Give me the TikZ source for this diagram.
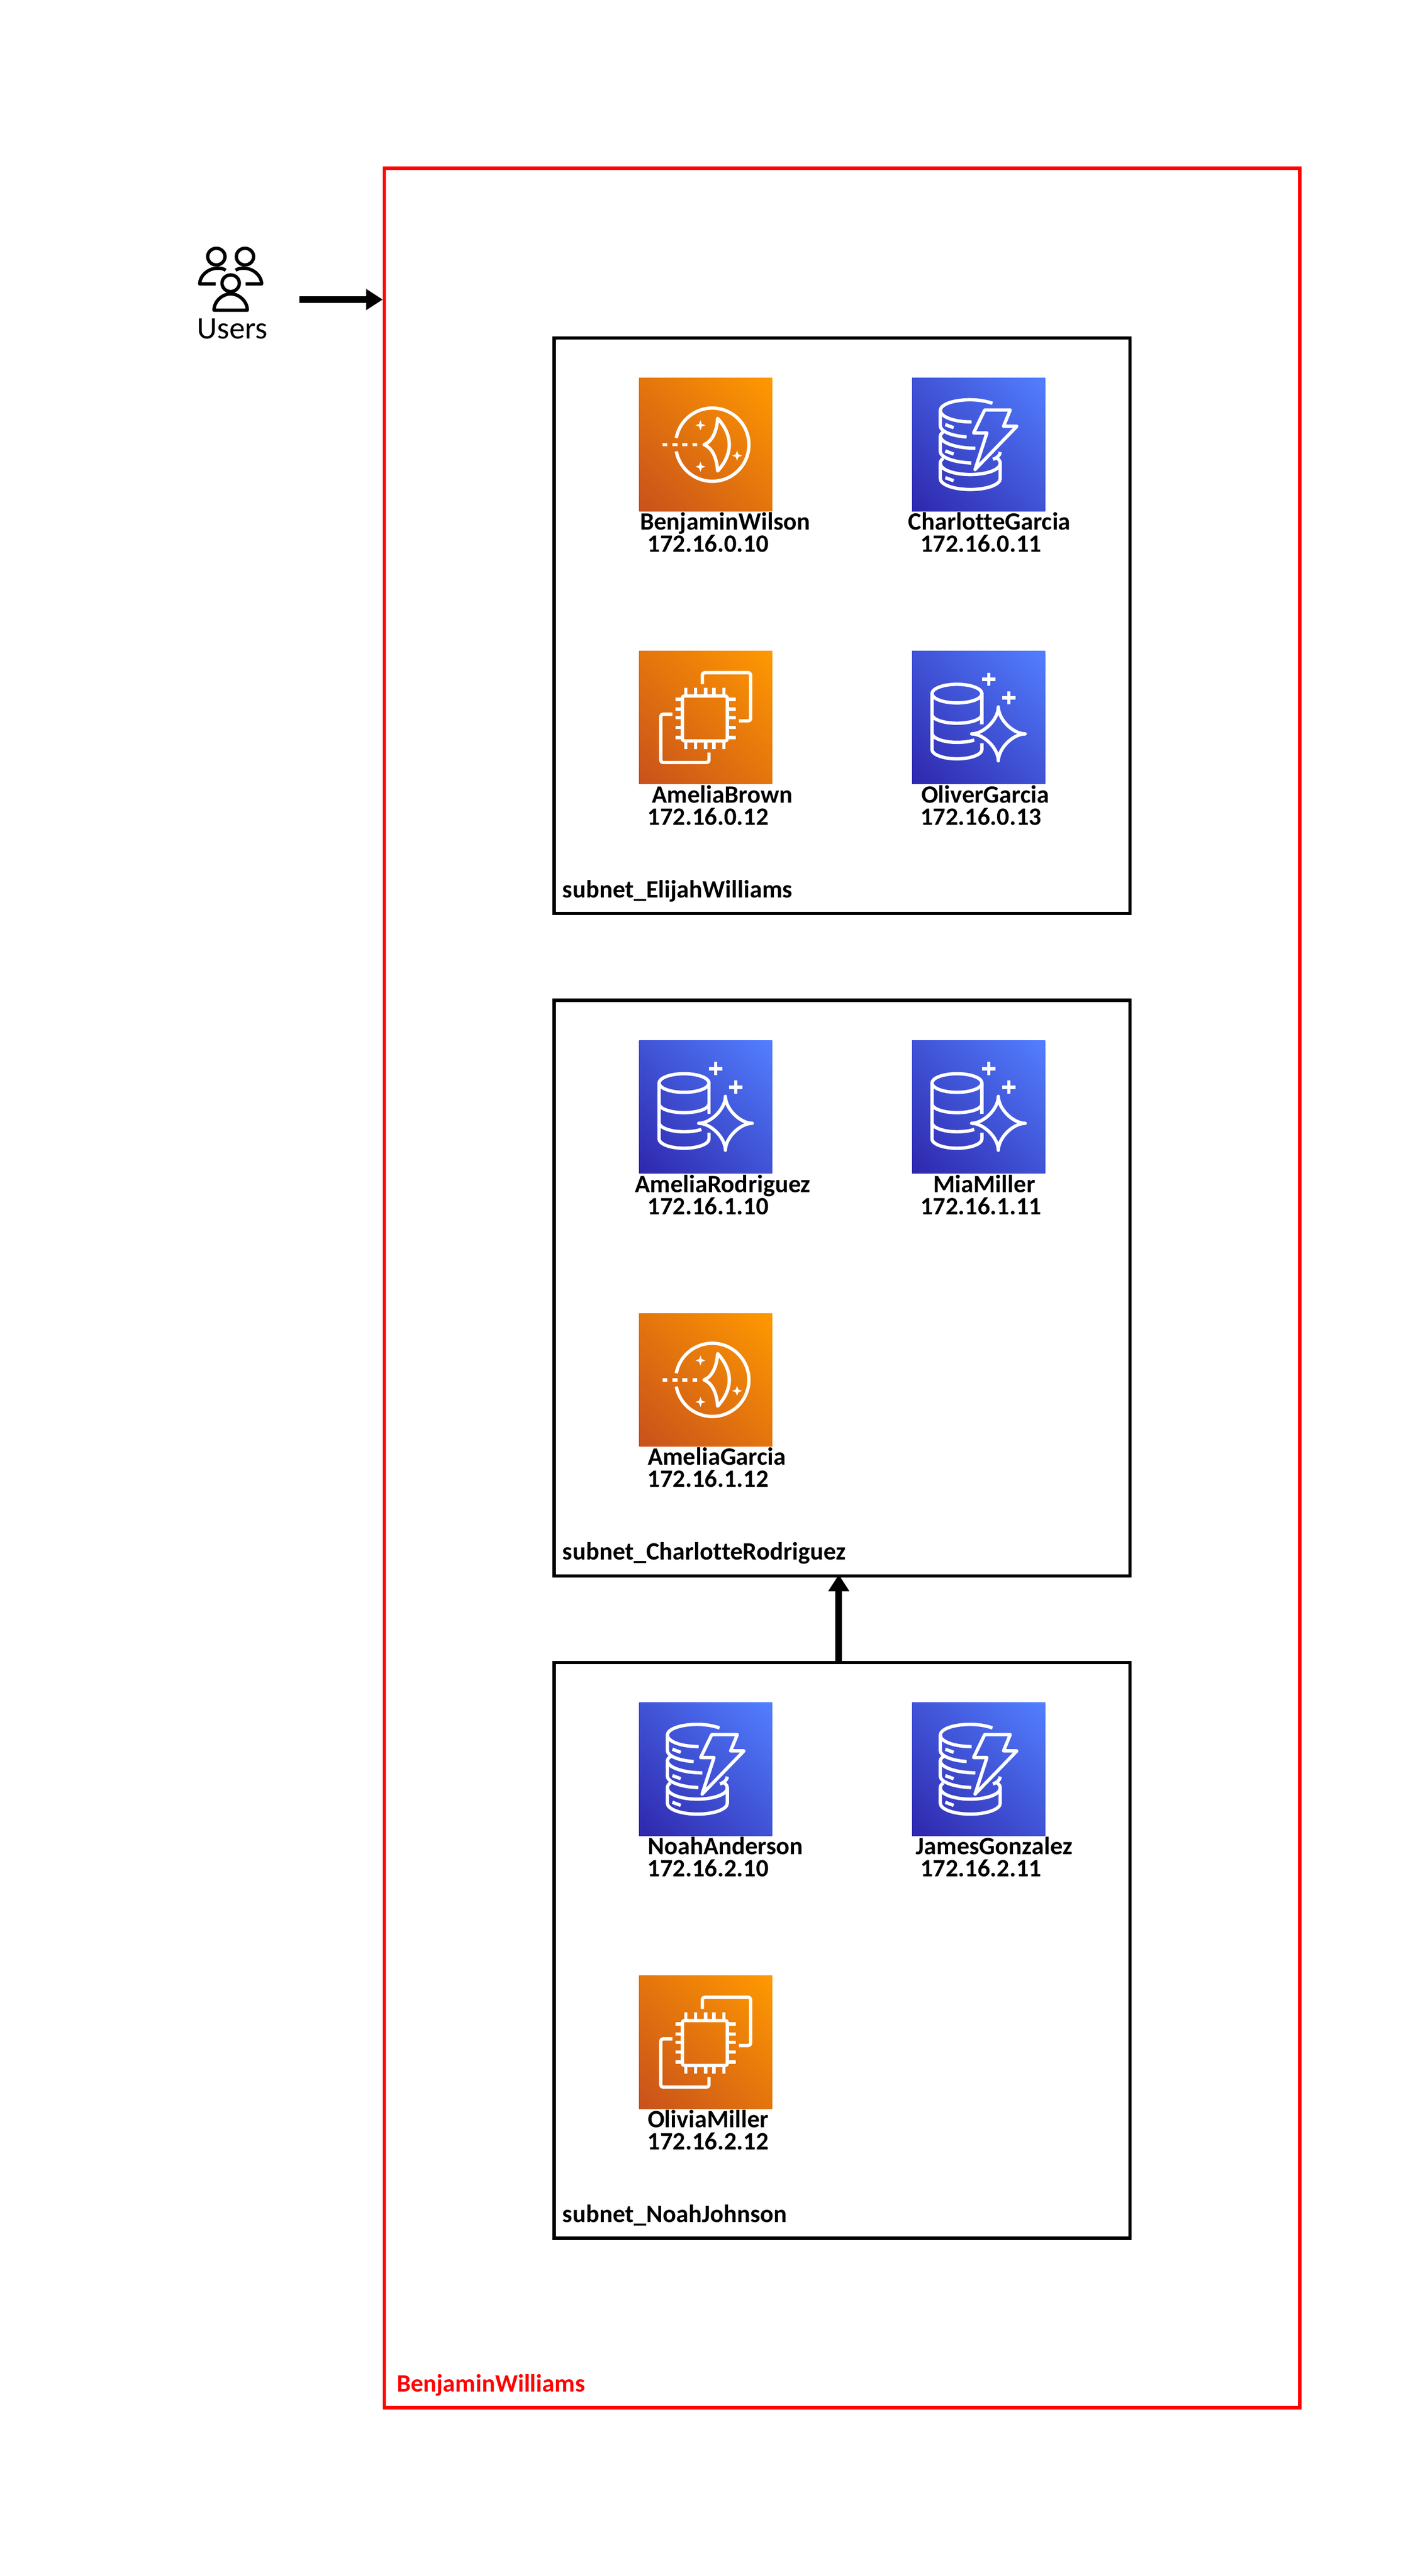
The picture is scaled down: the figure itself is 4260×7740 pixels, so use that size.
\documentclass[tikz,border=0pt]{standalone}
\usepackage{fontspec}
\setmainfont[Ligatures=NoCommon]{Carlito}
\usetikzlibrary{arrows.meta}
\definecolor{orangelow}{HTML}{C8511B}
\definecolor{orangehigh}{HTML}{FF9900}
\definecolor{bluelow}{HTML}{2E27AD}
\definecolor{bluehigh}{HTML}{527FFF}
\pgfdeclarehorizontalshading{orangefade}{100bp}{color(0bp)=(orangelow);color(14.6bp)=(orangelow);color(85.4bp)=(orangehigh);color(100bp)=(orangehigh)}
\pgfdeclarehorizontalshading{bluefade}{100bp}{color(0bp)=(bluelow);color(14.6bp)=(bluelow);color(85.4bp)=(bluehigh);color(100bp)=(bluehigh)}
\tikzset{
    vpc/.style =    {rectangle,
                    draw=red,
                    line width=1pt,
                    outer sep=0pt,
                    minimum width=275pt,
                    minimum height=673pt},
    subnet/.style = {rectangle,
                    draw=black,
                    line width=1pt,
                    outer sep=0pt,
                    minimum width=173pt,
                    minimum height=173pt},
    compute/.style = {rectangle,
                    shading=orangefade,
                    shading angle=45,
                    inner sep=0pt,
                    outer sep=0pt,
                    minimum size=40pt},
    database/.style = {rectangle,
                    shading=bluefade,
                    shading angle=45,
                    inner sep=0pt,
                    outer sep=0pt,
                    minimum size=40pt},
    caption/.style = {anchor=base west,
                    inner sep=0pt,
                    outer sep=0pt,
                    font=\fontsize{7.5pt}{8pt}\selectfont\bfseries},
    glyph/.style =  {draw=white,
                    line width=1pt,
                    line join=round},
    person/.style = {draw=black,
                    line width=1pt,
                    line join=round},
    flow/.style =   {draw=black,
                    line width=2pt},
    sparkle/.pic =  {\fill[white] (0,-15) -- (4,-4) -- (15,0) -- (4,4) -- (0,15)
                        -- (-4,4) -- (-15,0) -- (-4,-4) -- cycle;},
    lensglyph/.pic = {
        \draw[glyph] (111.8,180) arc[start angle=190.5,end angle=529.5,radius=110];
        \draw[glyph,dash pattern=on 1.5pt off 1.5pt] (70,200) -- (175,200);
        \draw[glyph] (195,200) .. controls (225,188) and (234,150) .. (236,121)
            .. controls (258,145) and (271,172) .. (271,200)
            .. controls (271,228) and (258,255) .. (236,279)
            .. controls (234,250) and (225,212) .. (195,200) -- cycle;
        \pic at (184.3,141.7) {sparkle};
        \pic at (294.3,233) {sparkle};
        \pic at (184.3,266.3) {sparkle};},
    ectwoglyph/.pic = {
        \draw[glyph,rounded corners=0.6pt] (130,135) rectangle (265,270);
        \draw[glyph] (140,110) -- (140,130) (170,110) -- (170,130) (200,110) -- (200,130)
            (225,110) -- (225,130) (255,110) -- (255,130)
            (140,275) -- (140,295) (170,275) -- (170,295) (200,275) -- (200,295)
            (225,275) -- (225,295) (255,275) -- (255,295)
            (110,145) -- (125,145) (110,175) -- (125,175) (110,200) -- (125,200)
            (110,230) -- (125,230) (110,260) -- (125,260)
            (270,145) -- (290,145) (270,175) -- (290,175) (270,200) -- (290,200)
            (270,230) -- (290,230) (270,260) -- (290,260);
        \draw[glyph,rounded corners=0.7pt] (190,100) -- (190,65) -- (335,65) -- (335,210) -- (300,210);
        \draw[glyph,rounded corners=0.7pt] (100,190) -- (65,190) -- (65,335) -- (210,335) -- (210,305);},
    dynamoglyph/.pic = {
        \draw[glyph] (241.7,75.7) .. controls (222,69) and (199,65) .. (175,65)
            .. controls (125,65) and (85,79) .. (85,97.3)
            .. controls (85,116) and (125,131.7) .. (179,131.7);
        \draw[glyph] (85,97.3) -- (85,144) .. controls (85,160) and (120,174) .. (164,176.7);
        \draw[glyph] (94,162) .. controls (88,166) and (85,170) .. (85,174) -- (85,220.7)
            .. controls (85,238) and (125,253) .. (178,255);
        \draw[glyph] (85,174) .. controls (85,195) and (135,210.7) .. (190,210.7);
        \draw[glyph] (94,241) .. controls (88,245) and (85,250) .. (85,256) -- (85,302)
            .. controls (85,320) and (125,334.7) .. (175,334.7)
            .. controls (225,334.7) and (265,320) .. (265,302) -- (265,256)
            .. controls (265,250) and (262,246) .. (256,241);
        \draw[glyph] (85,256) .. controls (85,275) and (125,289.7) .. (175,289.7)
            .. controls (225,289.7) and (265,275) .. (265,256);
        \draw[glyph] (265,222) .. controls (265,232) and (255,240) .. (243,244);
        \draw[glyph] (100,139.7) -- (125,149) (100,219) -- (125,228.3) (100,299) -- (125,308.3);
        \draw[glyph] (218.3,95.7) -- (295,95.7) -- (275,144.7) -- (315,144.7)
            -- (189.3,274.7) -- (225,164.7) -- (185,164.7) -- cycle;},
    auroraglyph/.pic = {
        \draw[glyph] (135,100) .. controls (94,100) and (60,112.5) .. (60,128)
            .. controls (60,143.5) and (94,156) .. (135,156)
            .. controls (176,156) and (210,143.5) .. (210,128)
            .. controls (210,112.5) and (176,100) .. (135,100) -- cycle;
        \draw[glyph] (60,128) -- (60,296) .. controls (60,311.5) and (94,324) .. (135,324)
            .. controls (176,324) and (210,311.5) .. (210,296) -- (210,277.3);
        \draw[glyph] (210,128) -- (210,220.7);
        \draw[glyph] (60,190) .. controls (60,205.5) and (94,217) .. (135,217)
            .. controls (176,217) and (210,205.5) .. (210,190);
        \draw[glyph] (60,247) .. controls (60,262) and (94,274.5) .. (135,274.5)
            .. controls (155,274.5) and (173,272) .. (187,267.5);
        \draw[glyph,line cap=round] (259.3,168) .. controls (259.3,205) and (303,249) .. (340,249)
            .. controls (303,249) and (259.3,293) .. (259.3,330)
            .. controls (259.3,293) and (216,249) .. (179,249)
            .. controls (216,249) and (259.3,205) .. (259.3,168) -- cycle;
        \draw[glyph] (230.3,65) -- (230.3,105) (210.3,85) -- (250.3,85)
            (290.7,120.7) -- (290.7,160.7) (270.7,140.7) -- (310.7,140.7);},
    usersglyph/.pic = {
        \draw[person] (-43,-69) ellipse [x radius=26,y radius=25];
        \draw[person] (43,-69) ellipse [x radius=26,y radius=25];
        \draw[person] (0,11) ellipse [x radius=26,y radius=25];
        \draw[person] (-15,-28) .. controls (-25,-36) and (-50,-38) .. (-70,-25)
            .. controls (-85,-15) and (-93,0) .. (-93,13) -- (-45,13);
        \draw[person] (15,-28) .. controls (25,-36) and (50,-38) .. (70,-25)
            .. controls (85,-15) and (93,0) .. (93,13) -- (45,13);
        \draw[person] (-50,92) .. controls (-50,65) and (-25,43) .. (0,43)
            .. controls (25,43) and (50,65) .. (50,92) -- cycle;},
    >={Triangle[length=5pt,width=6pt]},
    node distance=82pt}
\begin{document}
\begin{tikzpicture}[x=0.1pt,y=-0.1pt]
    \useasboundingbox (0,0) rectangle (4260,7740);

    % outer box and the three subnets
    \node[vpc]      (vpc)     at (2530,3870) {};
    \node[subnet]   (subnetA) at (2530,1880) {};
    \node[subnet]   (subnetB) at (2530,3870) {};
    \node[subnet]   (subnetC) at (2530,5860) {};
    \node[caption,text=red] (vpcname) at (1192,7187) {BenjaminWilliams};
    \node[caption]  (subnetAname) at ([xshift=2.5pt,yshift=4.8pt]subnetA.south west) {subnet\_ElijahWilliams};
    \node[caption]  (subnetBname) at ([xshift=2.5pt,yshift=4.8pt]subnetB.south west) {subnet\_CharlotteRodriguez};
    \node[caption]  (subnetCname) at ([xshift=2.5pt,yshift=4.8pt]subnetC.south west) {subnet\_NoahJohnson};

    % users
    \node[inner sep=0pt,outer sep=0pt,minimum width=19.2pt,minimum height=19pt] (usersicon) at (693,840) {};
    \pic at (usersicon) {usersglyph};
    \node[anchor=base west,inner sep=0pt,font=\fontsize{9.4pt}{10pt}\selectfont] (users) at (590,1018) {Users};
    \coordinate (entry) at (vpc.west |- 0,900);

    % first subnet
    \node[compute]  (a1) at ([xshift=45.5pt,yshift=-32.1pt]subnetA.north west) {};
    \node[database] (a2) [right of=a1] {};
    \node[compute]  (a3) [below of=a1] {};
    \node[database] (a4) [right of=a3] {};
    \pic at (a1.north west) {lensglyph};
    \pic at (a2.north west) {dynamoglyph};
    \pic at (a3.north west) {ectwoglyph};
    \pic at (a4.north west) {auroraglyph};
    \node[caption]  (a1name) at ([xshift=0.3pt,yshift=-5.6pt]a1.south west) {BenjaminWilson};
    \node[caption]  (a1ip)   at ([xshift=2.5pt,yshift=-12.3pt]a1.south west)  {172.16.0.10};
    \node[caption]  (a2name) at ([xshift=-1.1pt,yshift=-5.6pt]a2.south west) {CharlotteGarcia};
    \node[caption]  (a2ip)   at ([xshift=2.5pt,yshift=-12.3pt]a2.south west)  {172.16.0.11};
    \node[caption]  (a3name) at ([xshift=3.9pt,yshift=-5.6pt]a3.south west) {AmeliaBrown};
    \node[caption]  (a3ip)   at ([xshift=2.5pt,yshift=-12.3pt]a3.south west)  {172.16.0.12};
    \node[caption]  (a4name) at ([xshift=2.8pt,yshift=-5.6pt]a4.south west) {OliverGarcia};
    \node[caption]  (a4ip)   at ([xshift=2.5pt,yshift=-12.3pt]a4.south west)  {172.16.0.13};

    % second subnet
    \node[database] (b1) at ([xshift=45.5pt,yshift=-32.1pt]subnetB.north west) {};
    \node[database] (b2) [right of=b1] {};
    \node[compute]  (b3) [below of=b1] {};
    \pic at (b1.north west) {auroraglyph};
    \pic at (b2.north west) {auroraglyph};
    \pic at (b3.north west) {lensglyph};
    \node[caption]  (b1name) at ([xshift=-1.2pt,yshift=-5.6pt]b1.south west) {AmeliaRodriguez};
    \node[caption]  (b1ip)   at ([xshift=2.5pt,yshift=-12.3pt]b1.south west)  {172.16.1.10};
    \node[caption]  (b2name) at ([xshift=6.4pt,yshift=-5.6pt]b2.south west) {MiaMiller};
    \node[caption]  (b2ip)   at ([xshift=2.5pt,yshift=-12.3pt]b2.south west)  {172.16.1.11};
    \node[caption]  (b3name) at ([xshift=2.6pt,yshift=-5.6pt]b3.south west) {AmeliaGarcia};
    \node[caption]  (b3ip)   at ([xshift=2.5pt,yshift=-12.3pt]b3.south west)  {172.16.1.12};

    % third subnet
    \node[database] (c1) at ([xshift=45.5pt,yshift=-32.1pt]subnetC.north west) {};
    \node[database] (c2) [right of=c1] {};
    \node[compute]  (c3) [below of=c1] {};
    \pic at (c1.north west) {dynamoglyph};
    \pic at (c2.north west) {dynamoglyph};
    \pic at (c3.north west) {ectwoglyph};
    \node[caption]  (c1name) at ([xshift=2.6pt,yshift=-5.6pt]c1.south west) {NoahAnderson};
    \node[caption]  (c1ip)   at ([xshift=2.5pt,yshift=-12.3pt]c1.south west)  {172.16.2.10};
    \node[caption]  (c2name) at ([xshift=1.2pt,yshift=-5.6pt]c2.south west) {JamesGonzalez};
    \node[caption]  (c2ip)   at ([xshift=2.5pt,yshift=-12.3pt]c2.south west)  {172.16.2.11};
    \node[caption]  (c3name) at ([xshift=2.6pt,yshift=-5.6pt]c3.south west) {OliviaMiller};
    \node[caption]  (c3ip)   at ([xshift=2.5pt,yshift=-12.3pt]c3.south west)  {172.16.2.12};

    % connectors
    \draw[flow,->,shorten >=0.5pt,shorten <=11pt] (usersicon.east |- entry) -- (entry);
    \draw[flow,->,shorten >=-0.4pt] ([xshift=-1pt]subnetC.north) -- ([xshift=-1pt]subnetB.south);
\end{tikzpicture}
\end{document}
